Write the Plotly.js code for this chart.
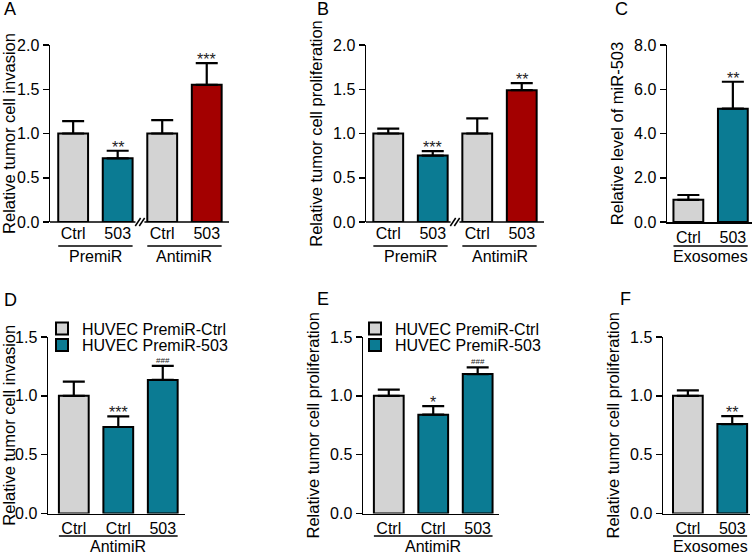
<!DOCTYPE html>
<html><head><meta charset="utf-8">
<script src="https://cdn.plot.ly/plotly-3.0.1.min.js"></script>
<style>html,body{margin:0;padding:0;background:#fff;} #chart{width:756px;height:555px;}</style>
</head><body><div id="chart"></div>
<script>
// ---------------- data ----------------
const catsA = ['Ctrl', '503', 'Ctrl', '503'];
const groupLabelsA = ['PremiR', 'AntimiR'];
const groupSpansA = [[0, 1], [2, 3]];
const invasionA = [1.00, 0.72, 1.00, 1.55];
const invasionErrA = [0.14, 0.085, 0.15, 0.245];
const starsA = ['', '**', '', '***'];
const colorKeysA = ['ctrl', 'pre', 'ctrl', 'anti'];

const catsB = ['Ctrl', '503', 'Ctrl', '503'];
const groupLabelsB = ['PremiR', 'AntimiR'];
const groupSpansB = [[0, 1], [2, 3]];
const proliferationB = [1.00, 0.75, 1.00, 1.49];
const proliferationErrB = [0.055, 0.05, 0.17, 0.08];
const starsB = ['', '***', '', '**'];
const colorKeysB = ['ctrl', 'pre', 'ctrl', 'anti'];

const catsC = ['Ctrl', '503'];
const groupLabelsC = ['Exosomes'];
const groupSpansC = [[0, 1]];
const levelC = [1.00, 5.12];
const levelErrC = [0.22, 1.22];
const starsC = ['', '**'];
const colorKeysC = ['ctrl', 'pre'];

const catsD = ['Ctrl', 'Ctrl', '503'];
const groupLabelsD = ['AntimiR'];
const groupSpansD = [[0, 2]];
const invasionD = [1.00, 0.735, 1.135];
const invasionErrD = [0.12, 0.09, 0.12];
const starsD = ['', '***', '###'];
const colorKeysD = ['ctrl', 'pre', 'pre'];

const catsE = ['Ctrl', 'Ctrl', '503'];
const groupLabelsE = ['AntimiR'];
const groupSpansE = [[0, 2]];
const proliferationE = [1.00, 0.84, 1.185];
const proliferationErrE = [0.053, 0.073, 0.057];
const starsE = ['', '*', '###'];
const colorKeysE = ['ctrl', 'pre', 'pre'];

const catsF = ['Ctrl', '503'];
const groupLabelsF = ['Exosomes'];
const groupSpansF = [[0, 1]];
const proliferationF = [1.00, 0.76];
const proliferationErrF = [0.047, 0.068];
const starsF = ['', '**'];
const colorKeysF = ['ctrl', 'pre'];

const legendNames = {ctrl: 'HUVEC PremiR-Ctrl', pre: 'HUVEC PremiR-503'};

// ---------------- style / layout ----------------
const W = 756, H = 555, BW = 0.67;
const FONT = '"Liberation Sans", Arial, Helvetica, sans-serif';
const COLORS = {ctrl: '#d3d3d3', pre: '#0b7b93', anti: '#a30000'};
const px = v => v / W, py = v => 1 - v / H;

const panels = [
  {letter: 'A', lx: 2, ly: 9, cats: catsA, vals: invasionA, errs: invasionErrA, stars: starsA, keys: colorKeysA,
   gl: groupLabelsA, gs: groupSpansA, ytitle: 'Relative tumor cell invasion', yrange: [0, 2], dtick: 0.5,
   xdom: [50, 229], ydom: [45, 222], xrange: [-0.52, 3.5], brk: true, gy: 246, gly: 257},
  {letter: 'B', lx: 315, ly: 9, cats: catsB, vals: proliferationB, errs: proliferationErrB, stars: starsB, keys: colorKeysB,
   gl: groupLabelsB, gs: groupSpansB, ytitle: 'Relative tumor cell proliferation', yrange: [0, 2], dtick: 0.5,
   xdom: [366, 544], xrange: [-0.5, 3.5], ydom: [45, 222], brk: true, gy: 246, gly: 257},
  {letter: 'C', lx: 613, ly: 9, cats: catsC, vals: levelC, errs: levelErrC, stars: starsC, keys: colorKeysC,
   gl: groupLabelsC, gs: groupSpansC, ytitle: 'Relative level of miR-503', yrange: [0, 8], dtick: 2,
   xdom: [667, 752], xrange: [-0.48, 1.43], ydom: [45, 222], gy: 246, gly: 257},
  {letter: 'D', lx: 2, ly: 300, cats: catsD, vals: invasionD, errs: invasionErrD, stars: starsD, keys: colorKeysD,
   gl: groupLabelsD, gs: groupSpansD, ytitle: 'Relative tumor cell invasion', yrange: [0, 1.5], dtick: 0.5,
   xdom: [48, 185], xrange: [-0.58, 2.5], ydom: [337, 513.5], gy: 536, gly: 546.5,
   legends: {ctrl: {id: 'legend', x: 42, y: 328.5}, pre: {id: 'legend2', x: 42, y: 345}}},
  {letter: 'E', lx: 315, ly: 299, cats: catsE, vals: proliferationE, errs: proliferationErrE, stars: starsE, keys: colorKeysE,
   gl: groupLabelsE, gs: groupSpansE, ytitle: 'Relative tumor cell proliferation', yrange: [0, 1.5], dtick: 0.5,
   xdom: [363, 499], xrange: [-0.58, 2.48], ydom: [337, 513.5], gy: 536, gly: 546.5,
   legends: {ctrl: {id: 'legend3', x: 355, y: 328.5}, pre: {id: 'legend4', x: 355, y: 345}}},
  {letter: 'F', lx: 618, ly: 299, cats: catsF, vals: proliferationF, errs: proliferationErrF, stars: starsF, keys: colorKeysF,
   gl: groupLabelsF, gs: groupSpansF, ytitle: 'Relative tumor cell proliferation', yrange: [0, 1.5], dtick: 0.5,
   xdom: [663, 750], xrange: [-0.56, 1.4], ydom: [337, 513.5], gy: 536, gly: 546.5}
];

const layout = {
  width: W, height: H, margin: {l: 0, r: 0, t: 0, b: 0},
  paper_bgcolor: 'white', plot_bgcolor: 'white', barmode: 'overlay',
  font: {family: FONT, size: 16, color: 'black'}, showlegend: true,
  shapes: [], annotations: []
};
const traces = [];
const black = {color: 'black', width: 1.5};

panels.forEach((p, k) => {
  const n = k === 0 ? '' : String(k + 1);
  const xa = 'x' + n, ya = 'y' + n;
  layout['xaxis' + n] = {
    domain: [px(p.xdom[0]), px(p.xdom[1])], range: p.xrange, anchor: ya,
    tickmode: 'array', tickvals: p.cats.map((_, i) => i), ticktext: p.cats,
    ticks: '', showline: !p.brk, linecolor: 'black', linewidth: 1.5,
    showgrid: false, zeroline: false, fixedrange: true,
    tickfont: {size: 16, family: FONT, color: 'black'}
  };
  layout['yaxis' + n] = {
    domain: [py(p.ydom[1]), py(p.ydom[0])], range: p.yrange, anchor: xa,
    tick0: 0, dtick: p.dtick, tickformat: '.1f', ticks: 'outside', ticklen: 6, tickwidth: 1.5,
    tickcolor: 'black', showline: true, linecolor: 'black', linewidth: 1.5,
    showgrid: false, zeroline: false, fixedrange: true,
    tickfont: {size: 16, family: FONT, color: 'black'},
    title: {text: p.ytitle, font: {size: 16.5, family: FONT, color: 'black'}, standoff: 6}
  };

  // bars grouped by colour
  [...new Set(p.keys)].forEach(key => {
    const idx = p.keys.map((c, i) => c === key ? i : -1).filter(i => i >= 0);
    const tr = {
      type: 'bar', x: idx, y: idx.map(i => p.vals[i]), width: BW, xaxis: xa, yaxis: ya,
      name: legendNames[key] || key, showlegend: false, hoverinfo: 'skip',
      marker: {color: COLORS[key], line: {color: 'black', width: 2}},
      error_y: {type: 'data', symmetric: false, array: idx.map(i => p.errs[i]),
                arrayminus: idx.map(() => 0), color: 'black', thickness: 2.2, width: 11}
    };
    if (p.legends && p.legends[key]) {
      const L = p.legends[key];
      tr.showlegend = true;
      tr.legend = L.id;
      layout[L.id] = {x: px(L.x), xanchor: 'left', y: py(L.y), yanchor: 'middle',
        bgcolor: 'rgba(0,0,0,0)', borderwidth: 0, itemclick: false, itemdoubleclick: false,
        font: {size: 16, family: FONT, color: 'black'}};
    }
    traces.push(tr);
  });

  // significance marks
  p.stars.forEach((s, i) => {
    if (!s) return;
    const hash = s[0] === '#';
    layout.annotations.push({xref: xa, yref: ya, x: i, y: p.vals[i] + p.errs[i], text: s,
      showarrow: false, yanchor: 'bottom', yshift: hash ? -1 : -7,
      font: {size: hash ? 8 : 16, family: FONT, color: '#222'}});
  });

  // broken x-axis
  const y0 = py(p.ydom[1]);
  if (p.brk) {
    const b = (p.gs[0][1] + p.gs[1][0]) / 2;
    layout.shapes.push({type: 'line', xref: xa, yref: 'paper', x0: p.xrange[0], x1: b - 0.1, y0: y0, y1: y0, line: black});
    layout.shapes.push({type: 'line', xref: xa, yref: 'paper', x0: b + 0.1, x1: p.xrange[1], y0: y0, y1: y0, line: black});
    [-0.045, 0.045].forEach(d => layout.shapes.push({type: 'line', xref: xa, yref: 'paper',
      x0: b + d - 0.06, x1: b + d + 0.06, y0: py(p.ydom[1] + 4), y1: py(p.ydom[1] - 4), line: black}));
  }

  // group brackets
  p.gl.forEach((g, j) => {
    const [a, c] = p.gs[j];
    layout.shapes.push({type: 'line', xref: xa, yref: 'paper', x0: a - BW / 2, x1: c + BW / 2,
      y0: py(p.gy), y1: py(p.gy), line: black});
    layout.annotations.push({xref: xa, yref: 'paper', x: (a + c) / 2, y: py(p.gly), text: g,
      showarrow: false, xanchor: 'center', yanchor: 'middle', font: {size: 16, family: FONT, color: 'black'}});
  });

  // panel letter
  layout.annotations.push({xref: 'paper', yref: 'paper', x: px(p.lx), y: py(p.ly), text: p.letter,
    showarrow: false, xanchor: 'left', yanchor: 'middle', font: {size: 18, family: FONT, color: 'black'}});
});

Plotly.newPlot('chart', traces, layout, {displayModeBar: false, staticPlot: true});
</script>
</body></html>
